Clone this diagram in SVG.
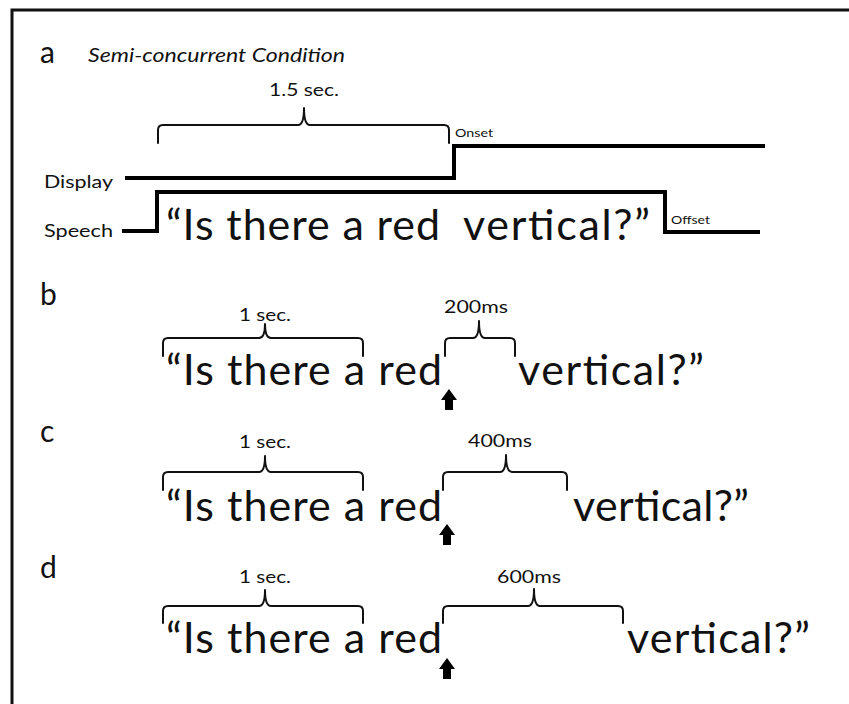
<svg xmlns="http://www.w3.org/2000/svg" width="849" height="704" viewBox="0 0 849 704">
  <style>
    text { font-family: Lato, "Liberation Sans", "DejaVu Sans", sans-serif; fill: #111; }
    .label { font-size: 30px; }
    .title { font-size: 20px; font-style: italic; }
    .big { font-size: 43px; }
    .dur { font-size: 18px; }
    .track { font-size: 18px; }
    .tiny { font-size: 12px; }
    .brace { fill: none; stroke: #111; stroke-width: 2; stroke-linejoin: round; stroke-linecap: round; }
    .trace { fill: none; stroke: #000; stroke-width: 4; stroke-linejoin: miter; }
    .cue { fill: #000; }
  </style>

  <!-- outer frame (runs off the right and bottom edges) -->
  <path d="M12,720 V10 H860" fill="none" stroke="#111" stroke-width="3"/>

  <!-- panel a: display / speech timing -->
  <g id="panel-a">
    <text class="label" x="40" y="63">a</text>
    <text class="title" x="88" y="62" textLength="257" lengthAdjust="spacingAndGlyphs">Semi-concurrent Condition</text>
    <text class="dur" x="304" y="96" text-anchor="middle" textLength="70" lengthAdjust="spacingAndGlyphs">1.5 sec.</text>
    <text class="track" x="44" y="188" textLength="69" lengthAdjust="spacingAndGlyphs">Display</text>
    <text class="track" x="44" y="237" textLength="69" lengthAdjust="spacingAndGlyphs">Speech</text>
    <text class="tiny" x="455" y="137" textLength="38" lengthAdjust="spacingAndGlyphs">Onset</text>
    <text class="tiny" x="671" y="224" textLength="39" lengthAdjust="spacingAndGlyphs">Offset</text>
    <text class="big" x="166" y="240" textLength="274" lengthAdjust="spacing">“Is there a red</text>
    <text class="big" x="463" y="240" textLength="187" lengthAdjust="spacing">vertical?”</text>
  </g>

  <!-- panel b: 200 ms gap -->
  <g id="panel-b">
    <text class="label" x="40" y="305">b</text>
    <text class="dur" x="265" y="321" text-anchor="middle" textLength="52" lengthAdjust="spacingAndGlyphs">1 sec.</text>
    <text class="dur" x="476" y="313" text-anchor="middle" textLength="64" lengthAdjust="spacingAndGlyphs">200ms</text>
    <text class="big" x="166" y="385" textLength="276" lengthAdjust="spacing">“Is there a red</text>
    <text class="big" x="518" y="385" textLength="186" lengthAdjust="spacing">vertical?”</text>
  </g>

  <!-- panel c: 400 ms gap -->
  <g id="panel-c">
    <text class="label" x="40" y="442">c</text>
    <text class="dur" x="265" y="448" text-anchor="middle" textLength="52" lengthAdjust="spacingAndGlyphs">1 sec.</text>
    <text class="dur" x="500" y="447" text-anchor="middle" textLength="64" lengthAdjust="spacingAndGlyphs">400ms</text>
    <text class="big" x="166" y="521" textLength="276" lengthAdjust="spacing">“Is there a red</text>
    <text class="big" x="573" y="521" textLength="176" lengthAdjust="spacing">vertical?”</text>
  </g>

  <!-- panel d: 600 ms gap -->
  <g id="panel-d">
    <text class="label" x="40" y="578">d</text>
    <text class="dur" x="265" y="583" text-anchor="middle" textLength="52" lengthAdjust="spacingAndGlyphs">1 sec.</text>
    <text class="dur" x="529" y="583" text-anchor="middle" textLength="64" lengthAdjust="spacingAndGlyphs">600ms</text>
    <text class="big" x="166" y="653" textLength="276" lengthAdjust="spacing">“Is there a red</text>
    <text class="big" x="627" y="653" textLength="183" lengthAdjust="spacing">vertical?”</text>
  </g>

  <!-- traces, braces and cue arrows -->
  <g id="connectors">
    <path class="trace" d="M125,178 H454 V146 H765"/>
    <path class="trace" d="M122,231 H157 V192 H665 V232 H760"/>

    <path class="brace" d="M158,143 V130 Q158,125 163,125 H298 Q304,125 304,108 Q304,125 310,125 H444 Q449,125 449,130 V143"/>

    <path class="brace" d="M163,356 V343 Q163,338 168,338 H259 Q265,338 265,324 Q265,338 271,338 H358 Q363,338 363,343 V356"/>
    <path class="brace" d="M445,356 V343 Q445,338 450,338 H473 Q479,338 479,321 Q479,338 485,338 H510 Q515,338 515,343 V356"/>

    <path class="brace" d="M163,490 V477 Q163,472 168,472 H259 Q265,472 265,456 Q265,472 271,472 H358 Q363,472 363,477 V490"/>
    <path class="brace" d="M443,490 V477 Q443,472 448,472 H500 Q506,472 506,455 Q506,472 512,472 H562 Q567,472 567,477 V490"/>

    <path class="brace" d="M163,623 V611 Q163,606 168,606 H259 Q265,606 265,590 Q265,606 271,606 H358 Q363,606 363,611 V623"/>
    <path class="brace" d="M443,623 V611 Q443,606 448,606 H528 Q534,606 534,589 Q534,606 540,606 H618 Q623,606 623,611 V623"/>

    <polygon class="cue" points="449,389 457,400 453,400 453,410 445,410 445,400 441,400"/>
    <polygon class="cue" points="447,524 455,535 451,535 451,545 443,545 443,535 439,535"/>
    <polygon class="cue" points="447,658 455,669 451,669 451,679 443,679 443,669 439,669"/>
  </g>
</svg>
